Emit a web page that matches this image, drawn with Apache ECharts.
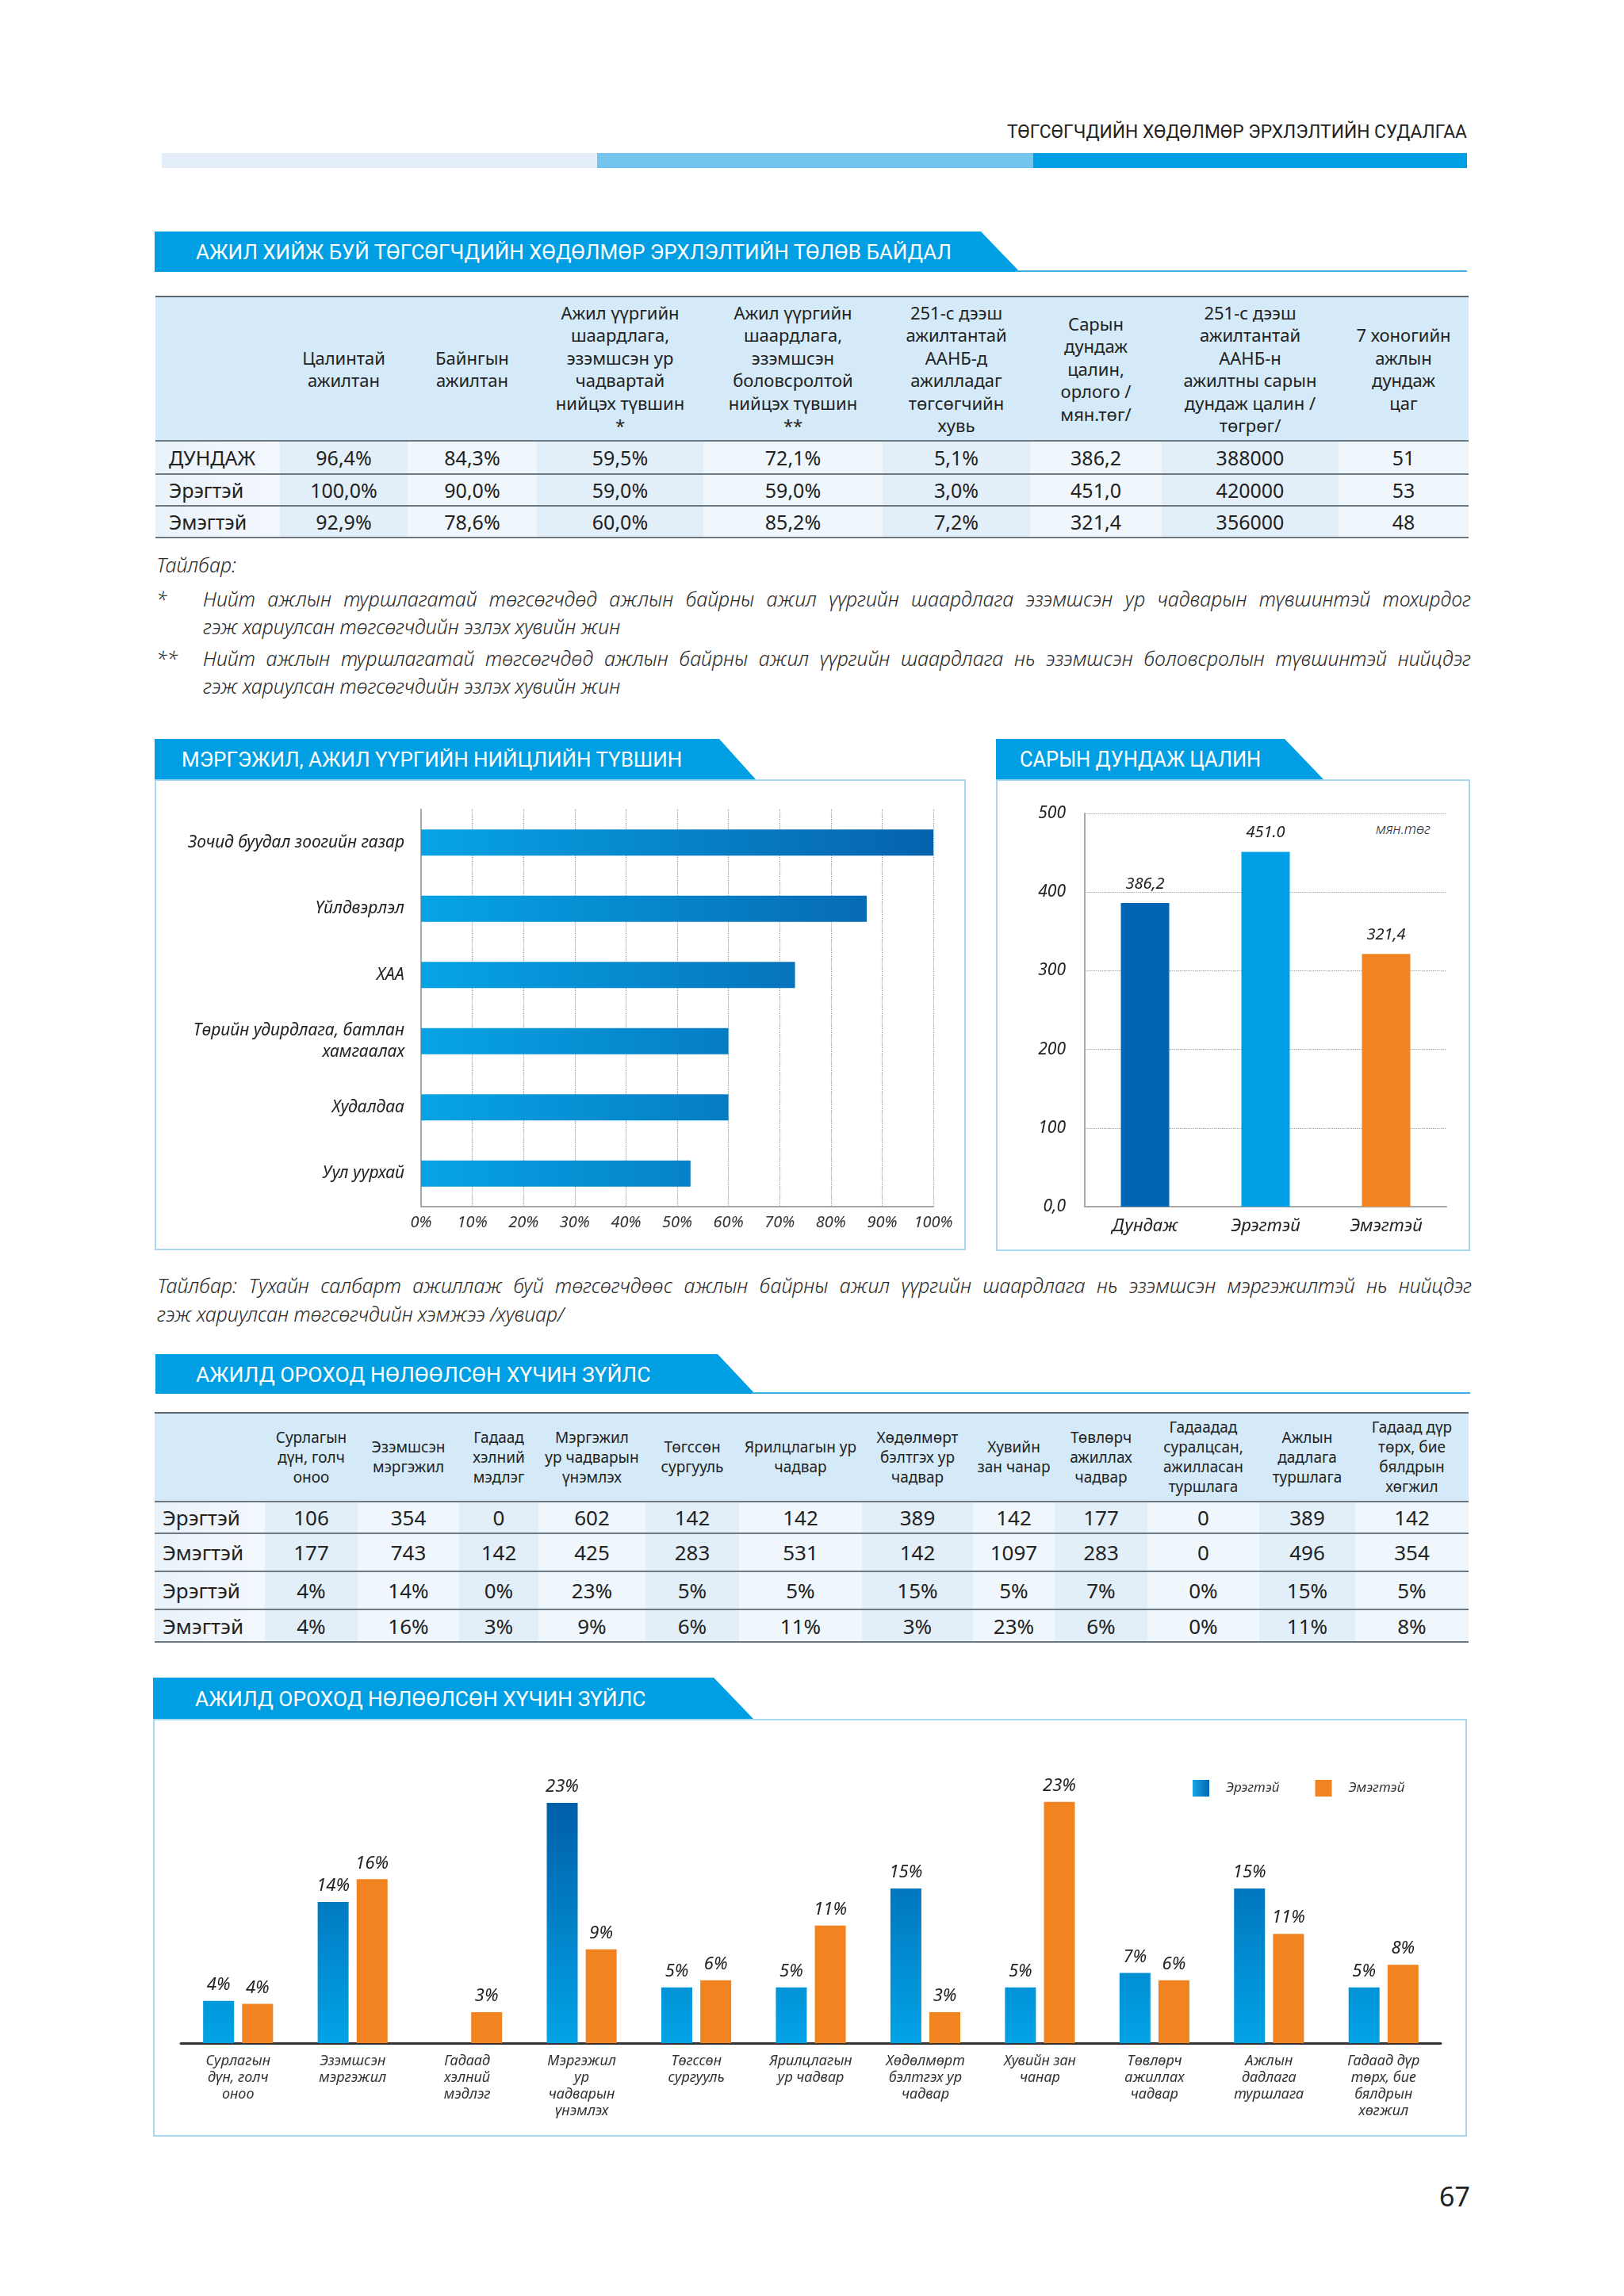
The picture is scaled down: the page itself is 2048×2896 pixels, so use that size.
<!DOCTYPE html>
<html>
<head>
<meta charset="utf-8">
<script src="https://cdn.jsdelivr.net/npm/echarts@6/dist/echarts.min.js"></script>
<style>
html,body{margin:0;padding:0;background:#fff;}
#page{position:relative;width:2048px;height:2896px;overflow:hidden;font-family:"Noto Sans","Open Sans",sans-serif;color:#222;background:#fff;}
.abs{position:absolute;white-space:nowrap;}
.banner{position:absolute;background:#009fe3;color:#fff;overflow:hidden;}
.banner span{position:absolute;top:0;white-space:nowrap;font-family:Roboto,"Noto Sans",sans-serif;transform-origin:0 50%;}
.box{position:absolute;border:2px solid #a8d8f1;box-sizing:border-box;background:#fff;}
table.t{position:absolute;border-collapse:collapse;table-layout:fixed;}
table.t td{padding:0;text-align:center;vertical-align:middle;color:#222;}
table.t tr.h td{background:#d5eaf8;}
table.t1 tr.h td{font-size:22px;line-height:28.5px;}
table.t2 tr.h td{font-size:19px;line-height:25px;}
table.t1 tr.d td{font-size:25px;}
table.t2 tr.d td{font-size:26px;}
table.t tr.d td{border-top:2px solid #6d7882;}
table.t tr.d:last-child td{border-bottom:2px solid #6d7882;}
table.t tr.h td{border-top:2px solid #5a6670;}
table.t td.lab{text-align:left;}
table.t tr.d td.lab{background:linear-gradient(to right,#e9f2fa,#f3f8fd);}
table.t tr.d td.odd{background:#e2eff9;}
table.t tr.d td.even{background:#eff6fc;}
.it{font-style:italic;font-weight:300;}
.just{text-align:justify;text-align-last:justify;white-space:normal;}
</style>
</head>
<body>
<div id="page"></div>
<div id="chart" style="position:absolute;left:0;top:0;width:2048px;height:2896px;z-index:5;pointer-events:none;"></div>
<script>
// ---------------- DATA ----------------
const headerTitle = "ТӨГСӨГЧДИЙН ХӨДӨЛМӨР ЭРХЛЭЛТИЙН СУДАЛГАА";
const section1Title = "АЖИЛ ХИЙЖ БУЙ ТӨГСӨГЧДИЙН ХӨДӨЛМӨР ЭРХЛЭЛТИЙН ТӨЛӨВ БАЙДАЛ";
const section2Title = "МЭРГЭЖИЛ, АЖИЛ ҮҮРГИЙН НИЙЦЛИЙН ТҮВШИН";
const section3Title = "САРЫН ДУНДАЖ ЦАЛИН";
const section4Title = "АЖИЛД ОРОХОД НӨЛӨӨЛСӨН ХҮЧИН ЗҮЙЛС";
const section5Title = "АЖИЛД ОРОХОД НӨЛӨӨЛСӨН ХҮЧИН ЗҮЙЛС";

const t1Headers = [
  "Цалинтай\nажилтан",
  "Байнгын\nажилтан",
  "Ажил үүргийн\nшаардлага,\nэзэмшсэн ур\nчадвартай\nнийцэх түвшин\n*",
  "Ажил үүргийн\nшаардлага,\nэзэмшсэн\nболовсролтой\nнийцэх түвшин\n**",
  "251-с дээш\nажилтантай\nААНБ-д\nажилладаг\nтөгсөгчийн\nхувь",
  "Сарын\nдундаж\nцалин,\nорлого /\nмян.төг/",
  "251-с дээш\nажилтантай\nААНБ-н\nажилтны сарын\nдундаж цалин /\nтөгрөг/",
  "7 хоногийн\nажлын\nдундаж\nцаг"
];
const t1RowLabels = ["ДУНДАЖ", "Эрэгтэй", "Эмэгтэй"];
const t1Avg    = ["96,4%", "84,3%", "59,5%", "72,1%", "5,1%", "386,2", "388000", "51"];
const t1Male   = ["100,0%", "90,0%", "59,0%", "59,0%", "3,0%", "451,0", "420000", "53"];
const t1Female = ["92,9%", "78,6%", "60,0%", "85,2%", "7,2%", "321,4", "356000", "48"];

const noteTitle = "Тайлбар:";
const note1a = "Нийт ажлын туршлагатай төгсөгчдөд ажлын байрны ажил үүргийн шаардлага  эзэмшсэн ур чадварын түвшинтэй тохирдог";
const note1b = "гэж хариулсан төгсөгчдийн эзлэх хувийн жин";
const note2a = "Нийт ажлын туршлагатай төгсөгчдөд ажлын байрны ажил үүргийн шаардлага нь эзэмшсэн боловсролын түвшинтэй нийцдэг";
const note2b = "гэж хариулсан төгсөгчдийн эзлэх хувийн жин";
const note3a = "Тайлбар: Тухайн салбарт ажиллаж буй төгсөгчдөөс ажлын байрны ажил үүргийн шаардлага нь эзэмшсэн мэргэжилтэй нь нийцдэг";
const note3b = "гэж хариулсан төгсөгчдийн хэмжээ /хувиар/";

const sectorNames = ["Зочид буудал зоогийн газар", "Үйлдвэрлэл", "ХАА", "Төрийн удирдлага, батлан\nхамгаалах", "Худалдаа", "Уул уурхай"];
const sectorMatch = [100, 87, 73, 60, 60, 52.6];

const salaryCats = ["Дундаж", "Эрэгтэй", "Эмэгтэй"];
const salaryValues = [386.2, 451.0, 321.4];
const salaryLabels = ["386,2", "451.0", "321,4"];
const salaryUnit = "мян.төг";

const t2Headers = [
  "Сурлагын\nдүн, голч\nоноо", "Эзэмшсэн\nмэргэжил", "Гадаад\nхэлний\nмэдлэг", "Мэргэжил\nур чадварын\nүнэмлэх",
  "Төгссөн\nсургууль", "Ярилцлагын ур\nчадвар", "Хөдөлмөрт\nбэлтгэх ур\nчадвар", "Хувийн\nзан чанар",
  "Төвлөрч\nажиллах\nчадвар", "Гадаадад\nсуралцсан,\nажилласан\nтуршлага", "Ажлын\nдадлага\nтуршлага", "Гадаад дүр\nтөрх, бие\nбялдрын\nхөгжил"
];
const t2RowLabels = ["Эрэгтэй", "Эмэгтэй", "Эрэгтэй", "Эмэгтэй"];
const t2MaleCount   = [106, 354, 0, 602, 142, 142, 389, 142, 177, 0, 389, 142];
const t2FemaleCount = [177, 743, 142, 425, 283, 531, 142, 1097, 283, 0, 496, 354];
const t2MalePct     = ["4%", "14%", "0%", "23%", "5%", "5%", "15%", "5%", "7%", "0%", "15%", "5%"];
const t2FemalePct   = ["4%", "16%", "3%", "9%", "6%", "11%", "3%", "23%", "6%", "0%", "11%", "8%"];

const factorCats = [
  "Сурлагын\nдүн, голч\nоноо", "Эзэмшсэн\nмэргэжил", "Гадаад\nхэлний\nмэдлэг", "Мэргэжил\nур\nчадварын\nүнэмлэх",
  "Төгссөн\nсургууль", "Ярилцлагын\nур чадвар", "Хөдөлмөрт\nбэлтгэх ур\nчадвар", "Хувийн зан\nчанар",
  "Төвлөрч\nажиллах\nчадвар", "Ажлын\nдадлага\nтуршлага", "Гадаад дүр\nтөрх, бие\nбялдрын\nхөгжил"
];
const factorMale   = [4.1, 13.7, 0, 23.3, 5.4, 5.4, 15.0, 5.4, 6.8, 15.0, 5.4];
const factorFemale = [3.8, 15.9, 3.0, 9.1, 6.1, 11.4, 3.0, 23.4, 6.1, 10.6, 7.6];
const seriesNames = ["Эрэгтэй", "Эмэгтэй"];
const pageNumber = "67";

// ---------------- PAGE (HTML) ----------------
const page = document.getElementById('page');
function el(tag, cls, style, text){
  const e = document.createElement(tag);
  if (cls) e.className = cls;
  if (style) Object.assign(e.style, style);
  if (text !== undefined) e.textContent = text;
  page.appendChild(e);
  return e;
}
function fitX(span, target){
  const w = span.scrollWidth;
  if (w > 0) span.style.transform = 'scaleX(' + (target / w) + ')';
}
function textAt(txt, left, cy, fs, opts){
  opts = opts || {};
  const lh = fs * 1.4;
  const e = el('div', 'abs' + (opts.italic ? ' it' : ''), {
    left: left + 'px', top: (cy - lh / 2) + 'px', fontSize: fs + 'px', lineHeight: lh + 'px',
    color: opts.color || '#2a2a2a'
  }, txt);
  if (opts.width) { e.style.width = opts.width + 'px'; }
  if (opts.justify) { e.className += ' just'; e.style.height = lh + 'px'; e.style.overflow = 'hidden'; }
  return e;
}
function banner(x, y, h, wTop, wBot, text, tx, tw, fs){
  const b = el('div', 'banner', {
    left: x + 'px', top: y + 'px', width: wBot + 'px', height: h + 'px',
    clipPath: 'polygon(0 0,' + wTop + 'px 0,' + wBot + 'px 100%,0 100%)'
  });
  const s = document.createElement('span');
  s.textContent = text;
  Object.assign(s.style, {left: (tx - x) + 'px', lineHeight: (h + 2) + 'px', fontSize: fs + 'px'});
  b.appendChild(s);
  fitX(s, tw);
}

// running header
const hs = el('div', 'abs', {left: '1270px', top: '151px', fontSize: '23px', lineHeight: '32px', fontFamily: 'Roboto,"Noto Sans",sans-serif', color: '#222', transformOrigin: '0 50%'}, headerTitle);
fitX(hs, 580);
el('div', null, {position: 'absolute', left: '204px', top: '193px', width: '549px', height: '19px', background: '#e3eef8'});
el('div', null, {position: 'absolute', left: '753px', top: '193px', width: '550px', height: '19px', background: '#73c5ee'});
el('div', null, {position: 'absolute', left: '1303px', top: '193px', width: '547px', height: '19px', background: '#009fe3'});

// section 1
banner(195, 292, 51, 1042, 1091, section1Title, 247, 953, 26);
el('div', null, {position: 'absolute', left: '1280px', top: '341px', width: '570px', height: '2px', background: '#3fb0e7'});

// table 1
(function(){
  const widths = [157, 161, 163, 210, 226, 186, 166, 223, 164];
  const t = el('table', 't t1', {left: '196px', top: '373px', width: '1656px'});
  const cg = document.createElement('colgroup');
  widths.forEach(w => { const c = document.createElement('col'); c.style.width = w + 'px'; cg.appendChild(c); });
  t.appendChild(cg);
  const hr = document.createElement('tr'); hr.className = 'h'; hr.style.height = '182px';
  const h0 = document.createElement('td'); h0.className = 'lab'; hr.appendChild(h0);
  t1Headers.forEach(h => {
    const td = document.createElement('td');
    td.innerHTML = h.split('\n').map(s => s.replace(/</g, '&lt;')).join('<br>');
    hr.appendChild(td);
  });
  t.appendChild(hr);
  const rows = [t1Avg, t1Male, t1Female];
  const heights = [42, 40, 40];
  rows.forEach((r, i) => {
    const tr = document.createElement('tr'); tr.className = 'd'; tr.style.height = heights[i] + 'px';
    const l = document.createElement('td'); l.className = 'lab'; l.style.paddingLeft = '17px'; l.textContent = t1RowLabels[i]; tr.appendChild(l);
    r.forEach((v, j) => { const td = document.createElement('td'); td.className = (j % 2 === 0) ? 'odd' : 'even'; td.textContent = v; tr.appendChild(td); });
    t.appendChild(tr);
  });
})();

// footnotes
textAt(noteTitle, 197, 712, 25, {italic: true});
textAt('*', 197, 755, 25, {italic: true});
textAt(note1a, 256, 755, 25, {italic: true, width: 1599, justify: true});
textAt(note1b, 256, 790, 25, {italic: true});
textAt('**', 197, 830, 25, {italic: true});
textAt(note2a, 256, 830, 25, {italic: true, width: 1599, justify: true});
textAt(note2b, 256, 865, 25, {italic: true});

// section 2 (two charts)
banner(195, 932, 51, 712, 758, section2Title, 229, 631, 26);
el('div', 'box', {left: '195px', top: '983px', width: '1023px', height: '594px'});
banner(1256, 932, 51, 364, 413, section3Title, 1286, 304, 27);
el('div', 'box', {left: '1256px', top: '983px', width: '598px', height: '595px'});
textAt(salaryUnit, 1735, 1046, 18, {italic: true});

// note
textAt(note3a, 198, 1621, 25, {italic: true, width: 1658, justify: true});
textAt(note3b, 198, 1657, 25, {italic: true});

// section 3 table
banner(196, 1708, 50, 709, 756, section4Title, 247, 573, 26);
el('div', null, {position: 'absolute', left: '948px', top: '1756px', width: '906px', height: '2px', background: '#3fb0e7'});
(function(){
  const widths = [139, 117, 128, 100, 135, 118, 155, 140, 103, 117, 141, 121, 143];
  const t = el('table', 't t2', {left: '195px', top: '1781px', width: '1657px'});
  const cg = document.createElement('colgroup');
  widths.forEach(w => { const c = document.createElement('col'); c.style.width = w + 'px'; cg.appendChild(c); });
  t.appendChild(cg);
  const hr = document.createElement('tr'); hr.className = 'h'; hr.style.height = '112px';
  const h0 = document.createElement('td'); h0.className = 'lab'; hr.appendChild(h0);
  t2Headers.forEach(h => {
    const td = document.createElement('td');
    td.innerHTML = h.split('\n').join('<br>');
    hr.appendChild(td);
  });
  t.appendChild(hr);
  const rows = [t2MaleCount, t2FemaleCount, t2MalePct, t2FemalePct];
  const heights = [40, 48, 48, 41];
  rows.forEach((r, i) => {
    const tr = document.createElement('tr'); tr.className = 'd'; tr.style.height = heights[i] + 'px';
    const l = document.createElement('td'); l.className = 'lab'; l.style.paddingLeft = '10px'; l.textContent = t2RowLabels[i]; tr.appendChild(l);
    r.forEach((v, j) => { const td = document.createElement('td'); td.className = (j % 2 === 0) ? 'odd' : 'even'; td.textContent = v; tr.appendChild(td); });
    t.appendChild(tr);
  });
})();

// section 4 chart
banner(193, 2116, 52, 707, 757, section5Title, 246, 568, 26);
el('div', 'box', {left: '193px', top: '2168px', width: '1657px', height: '527px'});

// page number
textAt(pageNumber, 1815, 2771, 34, {color: '#222'});

// ---------------- CHARTS (ECharts) ----------------
const FONT = '"Noto Sans","Open Sans",sans-serif';
const chart = echarts.init(document.getElementById('chart'), null, {renderer: 'canvas', width: 2048, height: 2896});
const dotted = {show: true, lineStyle: {type: 'dotted', color: '#9a9a9a', width: 1.2}};
const salaryColors = ['#0066b3', '#009fe3', '#f18421'];

chart.setOption({
  animation: false,
  backgroundColor: 'transparent',
  grid: [
    {left: 531, top: 1021, width: 646, height: 501},
    {left: 1368, top: 1026, width: 456, height: 496},
    {left: 228, top: 2252, width: 1589, height: 325}
  ],
  xAxis: [
    {type: 'value', gridIndex: 0, min: 0, max: 100, interval: 10,
     axisLine: {show: true, lineStyle: {color: '#a8a8a8', width: 2}}, axisTick: {show: false},
     axisLabel: {formatter: '{value}%', margin: 10, fontSize: 20, fontStyle: 'italic', color: '#333', fontFamily: FONT},
     splitLine: dotted},
    {type: 'category', gridIndex: 1, data: salaryCats,
     axisLine: {show: true, lineStyle: {color: '#a8a8a8', width: 2}}, axisTick: {show: false},
     axisLabel: {margin: 14, fontSize: 22, fontStyle: 'italic', color: '#222', fontFamily: FONT}},
    {type: 'category', gridIndex: 2, data: factorCats,
     axisLine: {show: true, lineStyle: {color: '#333', width: 3}}, axisTick: {show: false},
     axisLabel: {interval: 0, margin: 12, fontSize: 18, lineHeight: 21, fontStyle: 'italic', color: '#333', fontFamily: FONT}}
  ],
  yAxis: [
    {type: 'category', gridIndex: 0, data: sectorNames, inverse: true,
     axisLine: {show: true, lineStyle: {color: '#a8a8a8', width: 2}}, axisTick: {show: false},
     axisLabel: {margin: 21, fontSize: 21, lineHeight: 27, fontStyle: 'italic', color: '#222', align: 'right', fontFamily: FONT}},
    {type: 'value', gridIndex: 1, min: 0, max: 500, interval: 100,
     axisLine: {show: true, lineStyle: {color: '#a8a8a8', width: 2}}, axisTick: {show: false},
     axisLabel: {margin: 24, fontSize: 21, fontStyle: 'italic', color: '#222', fontFamily: FONT,
                 formatter: v => v === 0 ? '0,0' : String(v)},
     splitLine: dotted},
    {type: 'value', gridIndex: 2, min: 0, max: 25, show: false}
  ],
  legend: {
    left: 1499, top: 2240, itemWidth: 21, itemHeight: 21, itemGap: 45, icon: 'rect',
    textStyle: {fontStyle: 'italic', fontSize: 17, color: '#333', padding: [0, 0, 0, 16], fontFamily: FONT},
    data: [
      {name: seriesNames[0], itemStyle: {color: {type: 'linear', x: 0, y: 0, x2: 1, y2: 0,
        colorStops: [{offset: 0, color: '#16a6e6'}, {offset: 1, color: '#0066b3'}]}}},
      {name: seriesNames[1]}
    ]
  },
  series: [
    {type: 'bar', xAxisIndex: 0, yAxisIndex: 0, data: sectorMatch, barWidth: 33, silent: true,
     itemStyle: {color: {type: 'linear', x: 531, y: 0, x2: 1177, y2: 0, global: true,
       colorStops: [{offset: 0, color: '#06a4e5'}, {offset: 1, color: '#0662ad'}]}}},
    {type: 'bar', xAxisIndex: 1, yAxisIndex: 1, barWidth: 61, silent: true,
     data: salaryValues.map((v, i) => ({value: v, itemStyle: {color: salaryColors[i]}})),
     label: {show: true, position: 'top', distance: 14, fontSize: 20, fontStyle: 'italic', color: '#222', fontFamily: FONT,
             formatter: p => salaryLabels[p.dataIndex]}},
    {name: seriesNames[0], type: 'bar', xAxisIndex: 2, yAxisIndex: 2, data: factorMale, barWidth: 39, barGap: '26%', silent: true,
     itemStyle: {color: {type: 'linear', x: 0, y: 2277, x2: 0, y2: 2577, global: true,
       colorStops: [{offset: 0, color: '#005fa9'}, {offset: 1, color: '#02a3e6'}]}},
     label: {show: true, position: 'top', distance: 9, fontSize: 22, fontStyle: 'italic', color: '#222', fontFamily: FONT,
             formatter: p => p.value > 0 ? Math.round(p.value) + '%' : ''}},
    {name: seriesNames[1], type: 'bar', xAxisIndex: 2, yAxisIndex: 2, data: factorFemale, barWidth: 39, barGap: '26%', silent: true,
     itemStyle: {color: '#f18421'},
     label: {show: true, position: 'top', distance: 9, fontSize: 22, fontStyle: 'italic', color: '#222', fontFamily: FONT,
             formatter: p => p.value > 0 ? Math.round(p.value) + '%' : ''}}
  ]
});
</script>
</body>
</html>
